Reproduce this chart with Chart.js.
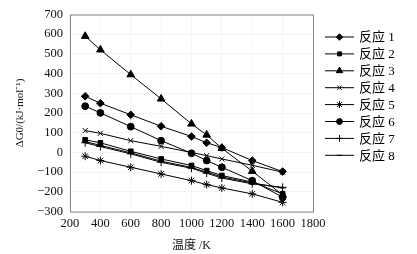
<!DOCTYPE html>
<html>
<head>
<meta charset="utf-8">
<script src="https://cdn.jsdelivr.net/npm/chart.js@4.4.1/dist/chart.umd.min.js"></script>
<style>
  html, body { margin: 0; padding: 0; background: #fff; }
</style>
</head>
<body>
<canvas id="chart" width="417" height="254"></canvas>
<script>
// temperatures (K) and ΔG0 values (kJ/mol)
const temps = [300, 400, 600, 800, 1000, 1100, 1200, 1400, 1600];
const r1 = [285, 250, 191, 133, 81, 49, 25, -41, -97];
const r2 = [64, 49, 6, -33, -66, -92, -117, -150, -210];
const r3 = [590, 521, 395, 272, 145, 89, 21, -95, -215];
const r4 = [111, 97, 60, 31, 0, -16, -33, -65, -100];
const r5 = [-19, -41, -75, -109, -143, -163, -180, -210, -253];
const r6 = [235, 201, 131, 60, -4, -41, -75, -143, -227];
const r7 = [49, 30, -7, -50, -80, -105, -130, -159, -177];
const r8 = [55, 36, -2, -44, -76, -100, -124, -155, -180];

const seriesNames = ['反应 1', '反应 2', '反应 3', '反应 4', '反应 5', '反应 6', '反应 7', '反应 8'];
const seriesValues = [r1, r2, r3, r4, r5, r6, r7, r8];
const markers = ['rectRot', 'rect', 'triangle', 'crossRot', 'star', 'circle', 'cross', 'line'];
const markerSizes = [3.8, 3.3, 4.4, 3.6, 4, 3.4, 4, 3];

const xTicks = [200, 400, 600, 800, 1000, 1200, 1400, 1600, 1800];
const yTicks = [-300, -200, -100, 0, 100, 200, 300, 400, 500, 600, 700];

const serif = '"Liberation Serif", "Noto Sans CJK SC", serif';

const datasets = seriesValues.map((vals, i) => ({
  label: seriesNames[i],
  data: vals.map((v, j) => ({ x: temps[j], y: v })),
  borderColor: '#000',
  backgroundColor: '#000',
  borderWidth: 1,
  pointStyle: markers[i],
  pointRadius: markerSizes[i],
  pointBorderWidth: 1,
  pointBorderColor: '#000',
  pointBackgroundColor: '#000',
  tension: 0
}));

// legend to the right of the plot: short line with marker, then name
const sideLegend = {
  id: 'sideLegend',
  afterDraw(chart) {
    const ctx = chart.ctx;
    const x0 = chart.chartArea.right + 12;
    chart.data.datasets.forEach((ds, i) => {
      const y = 37 + i * 16.9;
      ctx.save();
      ctx.strokeStyle = '#000';
      ctx.fillStyle = '#000';
      ctx.lineWidth = 1;
      ctx.beginPath();
      ctx.moveTo(x0, y);
      ctx.lineTo(x0 + 29, y);
      ctx.stroke();
      Chart.helpers.drawPoint(ctx, {
        pointStyle: ds.pointStyle,
        radius: ds.pointRadius * 0.85,
        borderWidth: 1,
        rotation: 0
      }, x0 + 14.5, y);
      ctx.font = '13px ' + serif;
      ctx.textBaseline = 'middle';
      ctx.fillText(ds.label, x0 + 34, y + 1);
      ctx.restore();
    });
  }
};

// box round the plot area
const plotBox = {
  id: 'plotBox',
  afterDatasetsDraw(chart) {
    const { left, top, right, bottom } = chart.chartArea;
    const ctx = chart.ctx;
    ctx.save();
    ctx.strokeStyle = '#888';
    ctx.lineWidth = 1;
    ctx.strokeRect(left + 0.5, top + 0.5, right - left, bottom - top);
    ctx.restore();
  }
};

new Chart(document.getElementById('chart'), {
  type: 'line',
  data: { datasets },
  options: {
    responsive: false,
    animation: false,
    layout: { padding: { left: 14, right: 104, top: 14, bottom: 1 } },
    plugins: {
      legend: { display: false },
      tooltip: { enabled: false }
    },
    scales: {
      x: {
        type: 'linear',
        min: 200,
        max: 1800,
        afterBuildTicks: (axis) => { axis.ticks = xTicks.map(v => ({ value: v })); },
        grid: { color: 'rgba(0,0,0,0.04)', drawTicks: false },
        border: { display: false },
        ticks: {
          color: '#111',
          padding: 5,
          maxRotation: 0,
          autoSkip: false,
          font: { family: serif, size: 12.5 },
          callback: (v) => String(v)
        },
        title: {
          display: true,
          text: '温度 /K',
          color: '#111',
          padding: { top: 2, bottom: 0 },
          font: { family: serif, size: 12 }
        }
      },
      y: {
        min: -300,
        max: 700,
        afterBuildTicks: (axis) => { axis.ticks = yTicks.map(v => ({ value: v })); },
        grid: { color: 'rgba(0,0,0,0.04)', drawTicks: false },
        border: { display: false },
        ticks: {
          color: '#111',
          padding: 7,
          font: { family: serif, size: 12.5 },
          callback: (v) => String(v).replace('-', '−')
        },
        title: {
          display: true,
          text: 'ΔG0/(kJ·mol⁻¹)',
          color: '#111',
          padding: { top: 0, bottom: 3 },
          font: { family: serif, size: 11 }
        }
      }
    }
  },
  plugins: [plotBox, sideLegend]
});
</script>
</body>
</html>
